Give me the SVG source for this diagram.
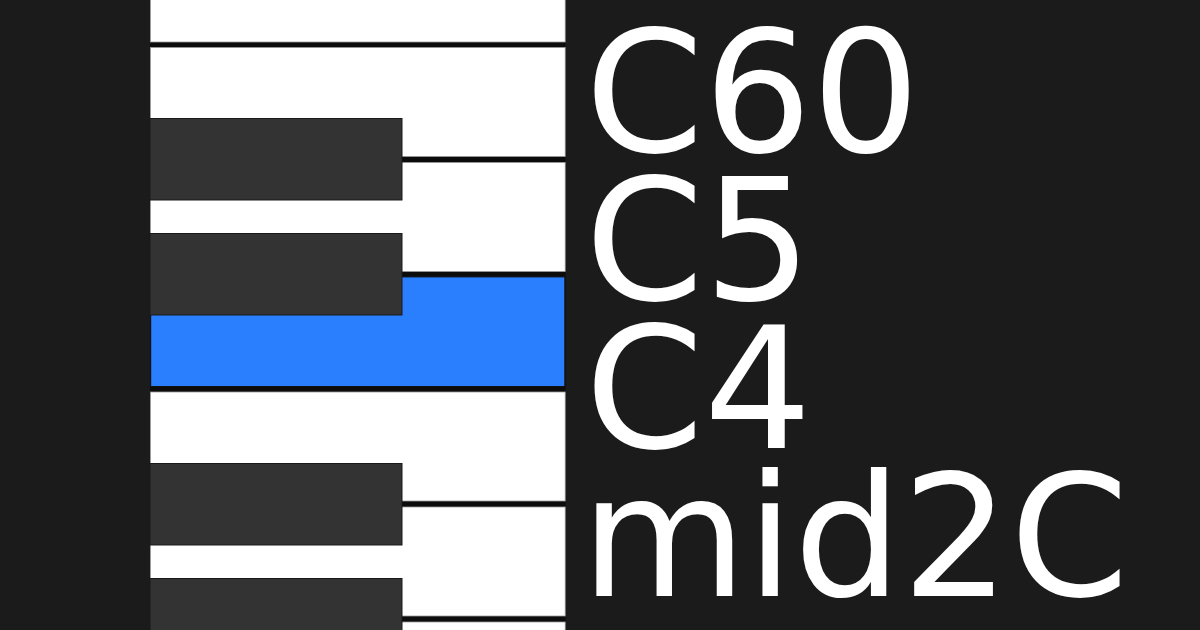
<svg xmlns="http://www.w3.org/2000/svg" width="1200" height="630" viewBox="0 0 1200 630">
  <style>
    .white { fill: #ffffff; stroke: #9a9a9a; stroke-width: 0.8; }
    .blue { fill: #2a7fff; stroke: #111111; stroke-width: 1.2; }
    .black { fill: #333333; stroke: #1a1a1a; stroke-width: 1; }
    .label { font-family: "DejaVu Sans", "Liberation Sans", sans-serif; font-size: 170px; fill: #ffffff; }
  </style>
  <rect x="0" y="0" width="1200" height="630" fill="#1b1b1b"/>
  <g id="keyboard">
    <rect x="150" y="0" width="415.5" height="630" fill="#0c0c0c"/>
    <g id="white-keys">
      <rect id="key-w0" class="white" x="150.4" y="-68" width="414.8" height="110"/>
      <rect id="key-w1" class="white" x="150.4" y="47.5" width="414.8" height="109"/>
      <rect id="key-w2" class="white" x="150.4" y="162.5" width="414.8" height="109"/>
      <rect id="key-c4" class="blue" x="150.6" y="276.8" width="414.3" height="109.8"/>
      <rect id="key-w4" class="white" x="150.4" y="392" width="414.8" height="109"/>
      <rect id="key-w5" class="white" x="150.4" y="507" width="414.8" height="109"/>
      <rect id="key-w6" class="white" x="150.4" y="622" width="414.8" height="109"/>
    </g>
    <g id="black-keys">
      <rect id="key-b1" class="black" x="150" y="118.5" width="252" height="81.5"/>
      <rect id="key-b2" class="black" x="150" y="233.5" width="252" height="81.5"/>
      <rect id="key-b3" class="black" x="150" y="463.5" width="252" height="81.5"/>
      <rect id="key-b4" class="black" x="150" y="578.5" width="252" height="81.5"/>
    </g>
  </g>
  <g id="labels">
    <text id="label-c60" class="label" x="585" y="152">C60</text>
    <text id="label-c5" class="label" x="585" y="300">C5</text>
    <text id="label-c4" class="label" x="585" y="448">C4</text>
    <text id="label-mid2c" class="label" x="581" y="596">mid2C</text>
  </g>
</svg>
